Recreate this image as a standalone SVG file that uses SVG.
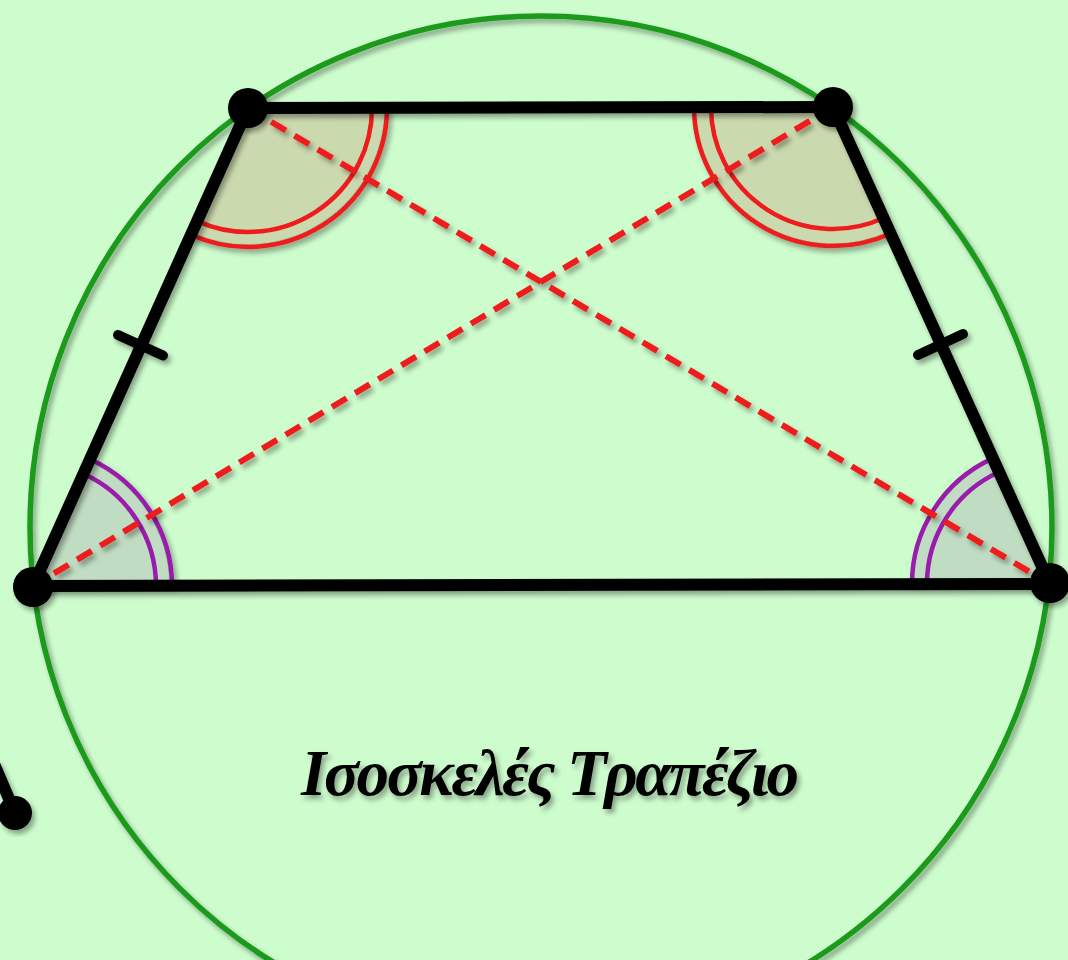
<svg xmlns="http://www.w3.org/2000/svg" width="1068" height="960" viewBox="0 0 1068 960">
<defs>
<filter id="sh" x="-20%" y="-20%" width="140%" height="140%">
<feDropShadow dx="3" dy="4" stdDeviation="2.5" flood-color="#000" flood-opacity="0.35"/>
</filter>
<style>
.side{stroke:#000;stroke-width:12;stroke-linecap:round;fill:none}
.diag{stroke:#ee1c1c;stroke-width:6;stroke-dasharray:17 10;fill:none}
.redarc{stroke:#ee1c1c;stroke-width:4.5;fill:none}
.purarc{stroke:#9a1aaa;stroke-width:4.5;fill:none}
.topfill{fill:#cbd9ae}
.botfill{fill:#c0dcc2}
.tick{stroke:#000;stroke-width:10;stroke-linecap:round}
.dot{fill:#000}
.label{font-family:"Liberation Serif","DejaVu Serif",serif;font-weight:bold;font-style:italic;font-size:65px;fill:#000}
</style>
</defs>
<rect width="1068" height="960" fill="#cdfccd"/>
<g id="circle" filter="url(#sh)">
<circle cx="541" cy="527" r="511" fill="none" stroke="#1c9a1c" stroke-width="5.5"/>
</g>
<g id="angles">
<g id="angleA" filter="url(#sh)">
<path class="topfill" d="M248,108 L384,108 A136,136 0 0 1 192.3,232 Z"/>
<path class="redarc" d="M372,108 A124,124 0 0 1 197.2,221.1"/>
<path class="redarc" d="M387,108 A139,139 0 0 1 191,234.8"/>
</g>
<g id="angleB" filter="url(#sh)">
<path class="topfill" d="M833,107 L889.4,230.8 A136,136 0 0 1 697,107 Z"/>
<path class="redarc" d="M883.6,218 A122,122 0 0 1 711,107"/>
<path class="redarc" d="M890.7,233.5 A139,139 0 0 1 694,107"/>
</g>
<g id="angleC" filter="url(#sh)">
<path class="botfill" d="M33,586 L88.8,462 A136,136 0 0 1 169,586 Z"/>
<path class="purarc" d="M83.4,473.8 A123,123 0 0 1 156,586"/>
<path class="purarc" d="M90,459.2 A139,139 0 0 1 172,586"/>
</g>
<g id="angleD" filter="url(#sh)">
<path class="botfill" d="M1050,584 L914,584 A136,136 0 0 1 993.6,460.2 Z"/>
<path class="purarc" d="M927,584 A123,123 0 0 1 999,472"/>
<path class="purarc" d="M912,584 A138,138 0 0 1 992.7,458.4"/>
</g>
</g>
<g id="connectors" filter="url(#sh)">
<line class="side" x1="248" y1="108" x2="833" y2="107"/>
<line class="side" x1="833" y1="107" x2="1050" y2="584"/>
<line class="side" x1="1050" y1="584" x2="33" y2="586"/>
<line class="side" x1="33" y1="586" x2="248" y2="108"/>
<line class="diag" x1="248" y1="108" x2="1050" y2="584"/>
<line class="diag" x1="833" y1="107" x2="33" y2="586"/>
<line class="tick" x1="118" y1="335" x2="163" y2="355.5"/>
<line class="tick" x1="918" y1="355" x2="963" y2="334"/>
<line class="side" x1="-5" y1="766" x2="15" y2="813"/>
</g>
<g id="vertexA" filter="url(#sh)"><circle class="dot" cx="248" cy="108" r="20"/></g>
<g id="vertexB" filter="url(#sh)"><circle class="dot" cx="833" cy="107" r="20"/></g>
<g id="vertexC" filter="url(#sh)"><circle class="dot" cx="33" cy="587" r="20"/></g>
<g id="vertexD" filter="url(#sh)"><circle class="dot" cx="1050" cy="583" r="20"/></g>
<g id="strayPoint" filter="url(#sh)"><circle class="dot" cx="15" cy="813" r="17"/></g>
<g id="title" filter="url(#sh)">
<text class="label" x="550" y="795" text-anchor="middle" textLength="498" lengthAdjust="spacing">Ισοσκελές Τραπέζιο</text>
</g>
</svg>
